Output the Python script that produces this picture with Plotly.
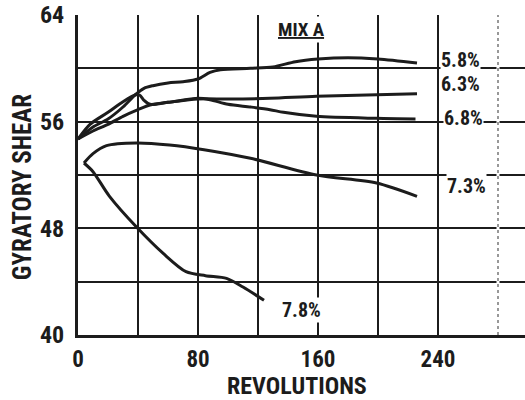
import plotly.graph_objects as go

# Data (revolutions vs gyratory shear)
x_58 = [0, 10, 20, 30, 38, 44, 50, 60, 70, 80, 88, 95, 115, 130, 145, 160, 180, 200, 226]
y_58 = [54.7, 55.6, 56.2, 57.1, 58.0, 58.5, 58.7, 58.9, 59.0, 59.2, 59.7, 59.9, 60.0, 60.1, 60.5, 60.7, 60.8, 60.7, 60.4]

x_63 = [0, 10, 20, 30, 40, 48, 60, 80, 100, 128, 159, 226]
y_63 = [54.7, 55.3, 55.8, 56.4, 56.9, 57.25, 57.45, 57.7, 57.7, 57.75, 57.9, 58.1]

x_68 = [0, 8, 20, 30, 38, 41, 44, 48, 60, 80, 88, 100, 115, 128, 137, 159, 199, 225]
y_68 = [54.7, 55.8, 56.7, 57.5, 58.0, 58.0, 57.6, 57.3, 57.45, 57.75, 57.65, 57.3, 57.1, 56.9, 56.7, 56.4, 56.25, 56.2]

x_73 = [4, 10, 19, 39, 61, 84, 115, 159, 199, 226]
y_73 = [52.9, 53.6, 54.2, 54.4, 54.25, 53.9, 53.25, 52.0, 51.4, 50.4]

x_78 = [4, 10, 21, 39, 57, 72, 85, 99, 110, 124]
y_78 = [52.9, 52.25, 50.4, 48.1, 46.1, 44.75, 44.45, 44.25, 43.6, 42.6]

series_labels = ["5.8%", "6.3%", "6.8%", "7.3%", "7.8%"]
x_ticks = [0, 80, 160, 240]
y_ticks = [40, 48, 56, 64]

FONT = "Liberation Sans Narrow, Arial Narrow, Roboto Condensed, Liberation Sans, sans-serif"
INK = "#1c1c1c"

fig = go.Figure()
for xs, ys in [(x_58, y_58), (x_63, y_63), (x_68, y_68), (x_73, y_73), (x_78, y_78)]:
    fig.add_trace(go.Scatter(x=xs, y=ys, mode="lines", line=dict(color=INK, width=3, shape="spline", smoothing=0.8),
                             showlegend=False, hoverinfo="skip"))

label_pos = [(255, 60.65), (254.7, 58.8), (256.7, 56.3), (258.7, 51.2), (148.7, 41.9)]
for lab, (lx, ly) in zip(series_labels, label_pos):
    fig.add_annotation(x=lx, y=ly, text=lab, showarrow=False, bgcolor="white", borderpad=0,
                       font=dict(family=FONT, size=20, color=INK, weight=700))

fig.add_annotation(x=148.7, y=62.9, text="<u>MIX A</u>", showarrow=False, bgcolor="white", borderpad=1,
                   font=dict(family=FONT, size=19, color=INK, weight=700))

fig.add_annotation(x=0.49, y=-0.16, xref="paper", yref="paper", text="REVOLUTIONS", showarrow=False,
                   yanchor="middle", font=dict(family=FONT, size=24, color=INK, weight=700))
fig.add_annotation(x=-0.125, y=0.4625, xref="paper", yref="paper", text="GYRATORY SHEAR", showarrow=False,
                   textangle=-90, xanchor="center", yanchor="middle",
                   font=dict(family=FONT, size=25, color=INK, weight=700))

# faint dashed line at 280 (paler in the reference)
fig.add_shape(type="line", x0=280, x1=280, y0=0, y1=1, yref="paper", line=dict(color="white", width=3), layer="above")
fig.add_shape(type="line", x0=280, x1=280, y0=0, y1=1, yref="paper", line=dict(color="#777", width=1.5, dash="dot"), layer="above")

fig.update_xaxes(range=[0, 298], tickvals=x_ticks, ticks="", showgrid=True, gridcolor=INK, gridwidth=2,
                 minor=dict(dtick=40, tick0=0, showgrid=True, gridcolor=INK, gridwidth=2),
                 showline=True, linecolor=INK, linewidth=3, mirror=False, zeroline=False,
                 ticklabelstandoff=1,
                 tickfont=dict(family=FONT, size=23, color=INK, weight=700))
fig.update_yaxes(range=[40, 64], tickvals=y_ticks, ticks="", showgrid=True, gridcolor=INK, gridwidth=2,
                 minor=dict(dtick=4, tick0=40, showgrid=True, gridcolor=INK, gridwidth=2),
                 showline=True, linecolor=INK, linewidth=3, zeroline=False,
                 ticklabelstandoff=6,
                 tickfont=dict(family=FONT, size=24, color=INK, weight=700))

fig.update_layout(width=525, height=400, margin=dict(l=78, r=0, t=15, b=65),
                  paper_bgcolor="white", plot_bgcolor="white")

fig.write_html("out.html")
